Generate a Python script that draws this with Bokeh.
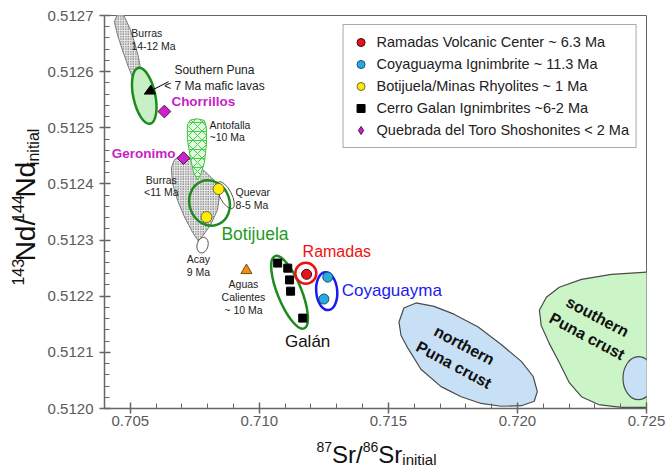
import numpy as np
from bokeh.plotting import figure
from bokeh.layouts import column, row
from bokeh.models import (Range1d, FixedTicker, PrintfTickFormatter, Legend,
                          LegendItem, Arrow, NormalHead, ColumnDataSource)
from bokeh.core.properties import value
from bokeh.embed import file_html
from bokeh.resources import INLINE

FONT = "Liberation Sans"

# ---- samples: initial 87Sr/86Sr and 143Nd/144Nd ----
ramadas_sr = [0.71183]
ramadas_nd = [0.512239]
coya_sr = [0.71265, 0.71250]
coya_nd = [0.512234, 0.512195]
botij_sr = [0.70842, 0.70795]
botij_nd = [0.512391, 0.512341]
galan_sr = [0.71071, 0.71110, 0.71117, 0.71121, 0.71168]
galan_nd = [0.512259, 0.512250, 0.512229, 0.512209, 0.512161]
toro_names = ["Chorrillos", "Geronimo"]
toro_sr = [0.70632, 0.70706]
toro_nd = [0.512529, 0.512446]
aguas_sr = [0.70950]
aguas_nd = [0.512246]

# ---- literature fields (outlines) ----
burras_old_sr = [0.70450, 0.70473, 0.70500, 0.70519, 0.70531, 0.70539, 0.70543,
                 0.70512, 0.70492, 0.70469, 0.70450, 0.70438]
burras_old_nd = [0.512702, 0.512702, 0.512675, 0.512648, 0.512627, 0.512607, 0.512586,
                 0.512586, 0.512609, 0.512639, 0.512666, 0.512689]
burras_young_sr = [0.70686, 0.70721, 0.70760, 0.70799, 0.70830, 0.70846, 0.70838,
                   0.70811, 0.70783, 0.70764, 0.70741, 0.70710, 0.70683, 0.70663,
                   0.70659, 0.70671]
burras_young_nd = [0.512448, 0.512446, 0.512434, 0.512418, 0.512404, 0.512380, 0.512354,
                   0.512327, 0.512309, 0.512298, 0.512314, 0.512341, 0.512371, 0.512402,
                   0.512429, 0.512443]
antofalla_sr = [0.70721, 0.70733, 0.70760, 0.70787, 0.70795, 0.70795, 0.70787,
                0.70772, 0.70760, 0.70745, 0.70733, 0.70721]
antofalla_nd = [0.512505, 0.512514, 0.512516, 0.512513, 0.512500, 0.512470, 0.512438,
                0.512416, 0.512407, 0.512421, 0.512446, 0.512479]
npuna_sr = [0.71541, 0.71560, 0.71607, 0.71677, 0.71754, 0.71848, 0.71937, 0.72015,
            0.72061, 0.72077, 0.72065, 0.72015, 0.71937, 0.71859, 0.71782, 0.71704,
            0.71626, 0.71576, 0.71549]
npuna_nd = [0.512154, 0.512179, 0.512188, 0.512182, 0.512168, 0.512145, 0.512114,
            0.512084, 0.512057, 0.512030, 0.512013, 0.512005, 0.512004, 0.512009,
            0.512021, 0.512039, 0.512070, 0.512107, 0.512130]
spuna_sr = [0.72508, 0.72364, 0.72248, 0.72162, 0.72112, 0.72085, 0.72092, 0.72123,
            0.72162, 0.72201, 0.72248, 0.72314, 0.72403, 0.72508]
spuna_nd = [0.512243, 0.512239, 0.512230, 0.512216, 0.512198, 0.512175, 0.512148,
            0.512116, 0.512082, 0.512046, 0.512021, 0.512007, 0.512002, 0.512002]

# ellipse-shaped fields: centres
mafic_c = (0.70554, 0.512557)
botij_c = (0.70807, 0.512366)
ramadas_c = (0.71180, 0.512241)
coya_c = (0.71261, 0.512209)
galan_c = (0.71117, 0.512207)
acay_c = (0.70780, 0.512291)
quevar_c = (0.70869, 0.512380)
crust_small_c = (0.72469, 0.512054)

x_major = [0.705, 0.710, 0.715, 0.720, 0.725]
y_major = [0.5120, 0.5121, 0.5122, 0.5123, 0.5124, 0.5125, 0.5126, 0.5127]

TITLE_W = 44   # strip left of the plot holding the y title
TITLE_H = 35   # strip below the plot holding the x title

p = figure(width=669 - TITLE_W, height=433, output_backend="svg", toolbar_location=None,
           x_range=Range1d(0.704, 0.725), y_range=Range1d(0.5120, 0.5127),
           min_border_left=59, min_border_right=23, min_border_top=15,
           min_border_bottom=25, background_fill_color="white",
           border_fill_color="white")
p.grid.visible = False
p.outline_line_color = "#666666"
p.outline_line_width = 1

x_minor = [round(0.704 + 0.001 * i, 3) for i in range(22)]
y_minor = [round(0.5120 + 0.00002 * i, 5) for i in range(36)]
for ax, major, minor, fmt in ((p.xaxis[0], x_major, x_minor, "%.3f"),
                              (p.yaxis[0], y_major, y_minor, "%.4f")):
    ax.ticker = FixedTicker(ticks=major, minor_ticks=minor)
    ax.formatter = PrintfTickFormatter(format=fmt)
    ax.axis_line_color = "#666666"
    ax.axis_line_width = 1.5
    ax.major_tick_line_color = "#666666"
    ax.minor_tick_line_color = "#666666"
    ax.major_tick_line_width = 1.5
    ax.major_tick_in = 6
    ax.major_tick_out = 5
    ax.minor_tick_in = 5
    ax.minor_tick_out = 0
    ax.major_label_text_font = FONT
    ax.major_label_text_font_size = "15px"
    ax.major_label_text_color = "#5a5a5a"
p.xaxis[0].major_label_standoff = 2
p.yaxis[0].major_label_standoff = 6

GREEN = "#1f8a1f"
OUT = "#4a4a4a"

# stippled Burras fields
for xs, ys in ((burras_old_sr, burras_old_nd), (burras_young_sr, burras_young_nd)):
    p.patch(xs, ys, fill_color="#e9e9e9", line_color="#7a7a7a", line_width=1,
            hatch_pattern="dot", hatch_scale=2.5, hatch_color="#3a3a3a",
            hatch_weight=1.2)

# Antofalla (green lattice)
p.patch(antofalla_sr, antofalla_nd, fill_color="#e4f9e4", line_color="#3cc43c",
        line_width=1, hatch_pattern="diagonal_cross", hatch_scale=9,
        hatch_color="#45d045", hatch_weight=1)
p.patch(antofalla_sr, antofalla_nd, fill_alpha=0, line_alpha=0,
        hatch_pattern="horizontal_line", hatch_scale=9, hatch_color="#45d045",
        hatch_weight=1)

# crustal fields
p.patch(npuna_sr, npuna_nd, fill_color="#c8e0f6", line_color=OUT, line_width=1.2)
p.patch(spuna_sr, spuna_nd, fill_color="#cbf5c6", line_color=OUT, line_width=1.2)
p.ellipse(x=[crust_small_c[0]], y=[crust_small_c[1]], width=31, height=43,
          width_units="screen", height_units="screen",
          fill_color="#c8e0f6", line_color=OUT, line_width=1.2)

# southern Puna mafic lavas
p.ellipse(x=[mafic_c[0]], y=[mafic_c[1]], width=22, height=57, angle=12,
          angle_units="deg", width_units="screen", height_units="screen",
          fill_color="#c9f0c5", line_color=GREEN, line_width=2.5)

# open fields
p.ellipse(x=[acay_c[0]], y=[acay_c[1]], width=11, height=16, angle=-15,
          angle_units="deg", width_units="screen", height_units="screen",
          fill_color="white", line_color="#555555", line_width=1)
p.ellipse(x=[quevar_c[0]], y=[quevar_c[1]], width=12, height=30, angle=28,
          angle_units="deg", width_units="screen", height_units="screen",
          fill_alpha=0, line_color="#555555", line_width=1)
p.ellipse(x=[botij_c[0]], y=[botij_c[1]], width=40, height=46, angle=20,
          angle_units="deg", width_units="screen", height_units="screen",
          fill_alpha=0, line_color=GREEN, line_width=2.5)
p.ellipse(x=[galan_c[0]], y=[galan_c[1]], width=24, height=78, angle=22,
          angle_units="deg", width_units="screen", height_units="screen",
          fill_alpha=0, line_color=GREEN, line_width=2.5)
p.ellipse(x=[ramadas_c[0]], y=[ramadas_c[1]], width=21, height=21,
          width_units="screen", height_units="screen",
          fill_alpha=0, line_color="#f01010", line_width=2.5)
p.ellipse(x=[coya_c[0]], y=[coya_c[1]], width=21, height=38, angle=5,
          angle_units="deg", width_units="screen", height_units="screen",
          fill_alpha=0, line_color="#1a1af0", line_width=2.5)

p.add_layout(Arrow(end=NormalHead(size=10, fill_color="black", line_color="black"),
                   x_start=0.70648, y_start=0.512582, x_end=mafic_c[0],
                   y_end=mafic_c[1] + 0.000003, line_color="black", line_width=1))

# samples
TORO_FILL, TORO_LINE = "#cc22cc", "#4a104a"
r_ram = p.scatter(ramadas_sr, ramadas_nd, marker="circle", size=10,
                  fill_color="#e8141b", line_color="#3a0a0a", line_width=1)
r_coy = p.scatter(coya_sr, coya_nd, marker="circle", size=10,
                  fill_color="#29abe2", line_color="#1d4f6e", line_width=1)
r_bot = p.scatter(botij_sr, botij_nd, marker="circle", size=11,
                  fill_color="#ffec00", line_color="#6a6a40", line_width=1)
r_gal = p.scatter(galan_sr, galan_nd, marker="square", size=8,
                  fill_color="black", line_color="black")
toro_src = ColumnDataSource(dict(x=toro_sr, y=toro_nd, name=toro_names))
p.scatter("x", "y", source=toro_src, marker="square", angle=np.pi / 4,
          size=9, fill_color=TORO_FILL, line_color=TORO_LINE, line_width=1)
# legend swatch for the shoshonites (diamond key)
r_toro_key = p.scatter(x=[np.nan], y=[np.nan], marker="diamond", size=14,
                       fill_color=TORO_FILL, line_color=TORO_LINE, line_width=1)
p.scatter(aguas_sr, aguas_nd, marker="triangle", size=11,
          fill_color="#f08c1a", line_color="#7a4a00", line_width=1)

# sample-site names
p.text(x=[toro_sr[0]], y=[toro_nd[0]], text=[toro_names[0]], x_offset=7, y_offset=-10,
       text_font=value(FONT), text_font_style="bold", text_font_size="13.5px",
       text_color="#c51fc5", text_align="left", text_baseline="middle")
p.text(x=[toro_sr[1]], y=[toro_nd[1]], text=[toro_names[1]], x_offset=-8, y_offset=-5,
       text_font=value(FONT), text_font_style="bold", text_font_size="13.5px",
       text_color="#c51fc5", text_align="right", text_baseline="middle")
p.text(x=[aguas_sr[0]], y=[aguas_nd[0]], text=["Aguas\nCalientes\n~ 10 Ma"],
       x_offset=-3, y_offset=8, text_font=value(FONT), text_font_size="10.5px",
       text_color="#222222", text_align="center", text_baseline="top",
       text_line_height=1.05)
p.text(x=[ramadas_sr[0]], y=[ramadas_nd[0]], text=["Ramadas"], x_offset=-4,
       y_offset=-23, text_font=value(FONT), text_font_size="16px",
       text_color="#f01010", text_align="left", text_baseline="middle")

# field names
small = dict(text_font=value(FONT), text_font_size="10.5px", text_color="#222222",
             text_line_height=1.05, text_baseline="top")
p.text(x=[0.70504], y=[0.512679], text=["Burras\n14-12 Ma"], text_align="left", **small)
p.text(x=[0.70807], y=[0.512516], text=["Antofalla\n~10 Ma"], text_align="left", **small)
p.text(x=[0.70620], y=[0.512418], text=["Burras\n<11 Ma"], text_align="center", **small)
p.text(x=[0.70908], y=[0.512396], text=["Quevar\n8-5 Ma"], text_align="left", **small)
p.text(x=[0.70764], y=[0.512277], text=["Acay\n9 Ma"], text_align="center", **small)
p.text(x=[0.70826], y=[0.512616], text=["Southern Puna\n< 7 Ma mafic lavas"],
       text_align="center", text_baseline="top", text_font=value(FONT),
       text_font_size="12px", text_color="#222222", text_line_height=1.15)
p.text(x=[0.70853], y=[0.512311], text=["Botijuela"], text_font=value(FONT),
       text_font_size="17.5px", text_color="#1f9a1f", text_baseline="middle")
p.text(x=[0.71319], y=[0.512211], text=["Coyaguayma"], text_font=value(FONT),
       text_font_size="17px", text_color="#1a1af0", text_baseline="middle")
p.text(x=[0.71187], y=[0.512120], text=["Galán"], text_font=value(FONT),
       text_font_size="17px", text_color="#111111", text_align="center",
       text_baseline="middle")
crust_lbl = dict(text_font=value(FONT), text_font_size="16px", text_font_style="bold",
                 text_color="#111111", text_align="center", text_baseline="middle",
                 text_line_height=1.3, angle=-28, angle_units="deg")
p.text(x=[0.71774], y=[0.512095], text=["northern\nPuna crust"], **crust_lbl)
p.text(x=[0.72290], y=[0.512146], text=["southern\nPuna crust"], **crust_lbl)

# legend
legend = Legend(items=[
    LegendItem(label="Ramadas Volcanic Center ~ 6.3 Ma", renderers=[r_ram]),
    LegendItem(label="Coyaguayma Ignimbrite ~ 11.3 Ma", renderers=[r_coy]),
    LegendItem(label="Botijuela/Minas Rhyolites ~ 1 Ma", renderers=[r_bot]),
    LegendItem(label="Cerro Galan Ignimbrites ~6-2 Ma", renderers=[r_gal]),
    LegendItem(label="Quebrada del Toro Shoshonites < 2 Ma", renderers=[r_toro_key]),
], location="top_right")
legend.margin = 9
legend.padding = 7
legend.spacing = 2
legend.label_height = 20
legend.glyph_height = 20
legend.glyph_width = 20
legend.label_standoff = 6
legend.label_text_font = FONT
legend.label_text_font_size = "14.5px"
legend.label_text_color = "#222222"
legend.border_line_color = "#555555"
legend.border_line_width = 1
legend.background_fill_alpha = 1
p.add_layout(legend)


# ---- axis titles with super/subscripts, drawn in their own strips ----
def title_strip(w, h):
    f = figure(width=w, height=h, output_backend="svg", toolbar_location=None,
               x_range=Range1d(0, w), y_range=Range1d(0, h),
               x_axis_location=None, y_axis_location=None, min_border=0,
               border_fill_color="white", background_fill_color="white")
    f.outline_line_color = None
    f.grid.visible = False
    return f


ADV = {"0": .556, "1": .556, "2": .556, "3": .556, "4": .556, "5": .556, "6": .556,
       "7": .556, "8": .556, "9": .556, "S": .667, "r": .333, "/": .278, "N": .722,
       "d": .556, "i": .222, "n": .556, "t": .278, "a": .556, "l": .222}


def advance(txt, size):
    return sum(ADV[c] for c in txt) * size


def write_run(f, parts, center, base, vertical):
    """Lay out a title piece by piece along a common baseline `base`;
    `shift` raises (superscript) or lowers (subscript) a piece."""
    pos = center - sum(advance(t, s) for t, s, _ in parts) / 2
    for txt, size, shift in parts:
        if vertical:
            # rotated pieces are anchored at the middle of their glyphs
            mid = shift + 0.33 * size
            xy = dict(x=[base - mid], y=[pos], angle=np.pi / 2, text_baseline="middle")
        else:
            xy = dict(x=[pos], y=[base + shift], text_baseline="alphabetic")
        f.text(text=[txt], text_font=value(FONT), text_font_size=f"{size}px",
               text_color="#111111", text_align="left", **xy)
        pos += advance(txt, size)


xt = title_strip(669, TITLE_H)
write_run(xt, [("87", 14, 8), ("Sr/", 24, 0), ("86", 14, 8), ("Sr", 24, 0),
               ("initial", 15, -5)], center=376, base=14, vertical=False)

yt = title_strip(TITLE_W, 433)
write_run(yt, [("143", 16, 11), ("Nd/", 28, 0), ("144", 16, 11), ("Nd", 28, 0),
               ("initial", 16, -4)], center=220, base=34, vertical=True)

page = column(row(yt, p, spacing=0), xt, spacing=0)
open("out.html", "w").write(file_html(page, INLINE))
